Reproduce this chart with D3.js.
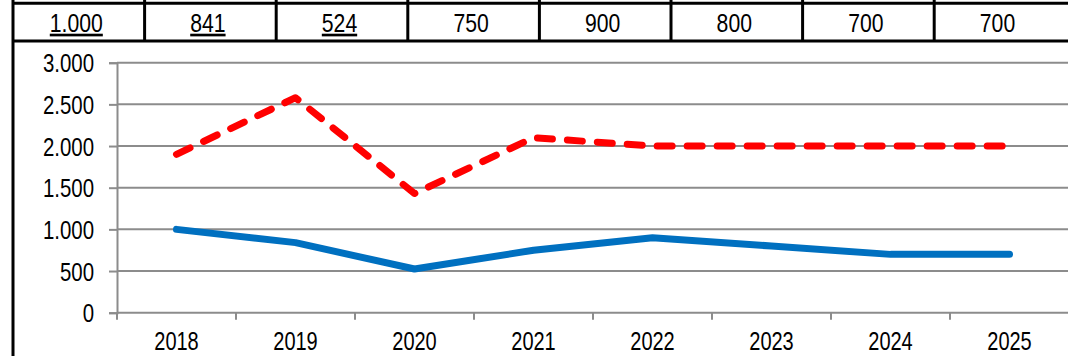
<!DOCTYPE html>
<html><head><meta charset="utf-8">
<script src="https://cdn.jsdelivr.net/npm/d3@7"></script>
<style>
html,body{margin:0;padding:0;background:#fff;overflow:hidden}
text{font-family:"Liberation Sans",Arial,sans-serif}
</style></head>
<body><svg id="c" width="1068" height="356"></svg>
<script>
const years = ["2018","2019","2020","2021","2022","2023","2024","2025"];
const seriesBlue = [1000, 841, 524, 750, 900, 800, 700, 700];
const seriesRed = [1900, 2580, 1430, 2100, 2000, 2000, 2000, 2000];
const tableLabels = ["1.000","841","524","750","900","800","700","700"];
const tableUnderlined = [true, true, true, false, false, false, false, false];
const yTicks = [0, 500, 1000, 1500, 2000, 2500, 3000];

const SX = 0.8; // condensed look
const svg = d3.select("#c");
const fmt = v => v === 0 ? "0" : d3.format(",")(v).replace(/,/g, ".");

const x = d3.scaleBand().domain(years).range([117, 1069]);
const y = d3.scaleLinear().domain([0, 3000]).range([312.7, 62.7]);
const tx = d3.scaleBand().domain(years).range([13, 1065.8]);

// gridlines
svg.append("g").selectAll("line").data(yTicks.filter(d => d > 0)).join("line")
  .attr("x1", 117).attr("x2", 1068).attr("y1", d => y(d)).attr("y2", d => y(d))
  .attr("stroke", "#8c8c8c").attr("stroke-width", 2);

// y axis
const ya = svg.append("g").attr("transform", "translate(117,0)")
  .call(d3.axisLeft(y).tickValues(yTicks).tickFormat(fmt).tickSize(8).tickPadding(14));
ya.select(".domain").attr("stroke", "#8c8c8c").attr("stroke-width", 2);
ya.selectAll(".tick line").attr("stroke", "#8c8c8c").attr("stroke-width", 2);
ya.selectAll(".tick text").attr("font-size", 25.5).attr("fill", "#000")
  .attr("font-family", null).attr("x", 0).attr("dy", "0.36em")
  .attr("transform", `translate(-23,0) scale(${SX},1)`);

// x axis baseline and ticks at category boundaries
svg.append("line").attr("x1", 117).attr("x2", 1068).attr("y1", y(0)).attr("y2", y(0))
  .attr("stroke", "#8c8c8c").attr("stroke-width", 2);
svg.append("g").selectAll("line").data(years).join("line")
  .attr("x1", d => x(d)).attr("x2", d => x(d)).attr("y1", y(0)).attr("y2", y(0) + 7)
  .attr("stroke", "#8c8c8c").attr("stroke-width", 2);
svg.append("g").selectAll("text").data(years).join("text")
  .attr("transform", d => `translate(${x(d) + x.bandwidth() / 2},350) scale(${SX},1)`)
  .attr("text-anchor", "middle").attr("font-size", 25).attr("fill", "#000").text(d => d);

// lines
const line = d3.line().x((d, i) => x(years[i]) + x.bandwidth() / 2).y(d => y(d));
svg.append("path").datum(seriesBlue).attr("d", line).attr("fill", "none")
  .attr("stroke", "#0070C0").attr("stroke-width", 7)
  .attr("stroke-linecap", "round").attr("stroke-linejoin", "round");
svg.append("path").datum(seriesRed).attr("d", line).attr("fill", "none")
  .attr("stroke", "#FF0000").attr("stroke-width", 7).attr("stroke-dasharray", "15,15")
  .attr("stroke-linecap", "round").attr("stroke-linejoin", "round");

// table
const tg = svg.append("g");
tg.append("line").attr("x1", 13).attr("x2", 1068).attr("y1", 3.3).attr("y2", 3.3)
  .attr("stroke", "#000").attr("stroke-width", 3);
tg.append("line").attr("x1", 13).attr("x2", 1068).attr("y1", 41).attr("y2", 41)
  .attr("stroke", "#000").attr("stroke-width", 3);
tg.selectAll(".div").data(years.slice(1)).join("line")
  .attr("x1", d => tx(d)).attr("x2", d => tx(d)).attr("y1", 0).attr("y2", 41)
  .attr("stroke", "#000").attr("stroke-width", 3);
tg.append("line").attr("x1", 13).attr("x2", 13).attr("y1", 0).attr("y2", 356)
  .attr("stroke", "#000").attr("stroke-width", 3);
tg.selectAll("text").data(years).join("text")
  .attr("transform", d => `translate(${tx(d) + tx.bandwidth() / 2 - 2.5},31.5) scale(${SX},1)`)
  .attr("text-anchor", "middle").attr("font-size", 26.5).attr("fill", "#000")
  .attr("text-decoration", (d, i) => tableUnderlined[i] ? "underline" : null)
  .text((d, i) => tableLabels[i]);
</script></body></html>
